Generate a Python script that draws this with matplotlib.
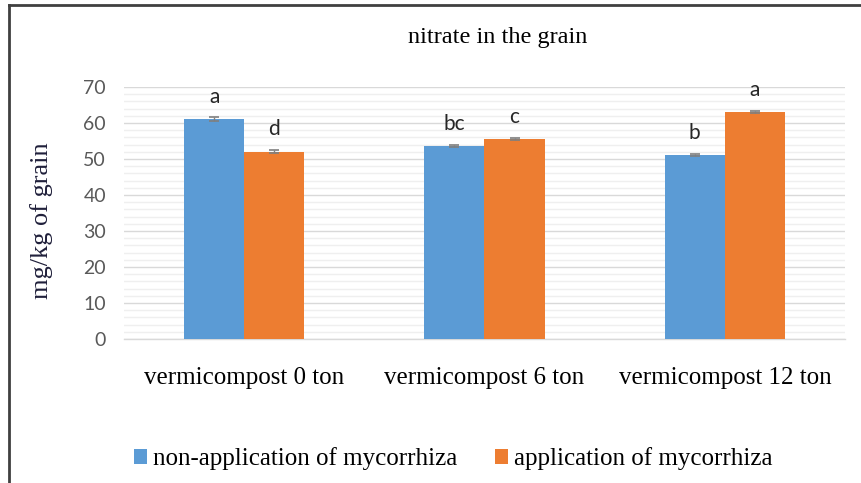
import matplotlib
matplotlib.use("Agg")
import matplotlib.pyplot as plt
import numpy as np
from matplotlib.lines import Line2D
from matplotlib.patches import Patch

categories = ["vermicompost 0 ton", "vermicompost 6 ton", "vermicompost 12 ton"]
series_names = ["non-application of mycorrhiza", "application of mycorrhiza"]
non_app = [61.1, 53.6, 51.1]
app = [52.0, 55.6, 63.1]
non_app_err = [0.6, 0.3, 0.3]
app_err = [0.4, 0.3, 0.3]
non_app_letters = ["a", "bc", "b"]
app_letters = ["d", "c", "a"]
yticks = [0, 10, 20, 30, 40, 50, 60, 70]

blue = "#5b9bd5"
orange = "#ed7d31"
serif = "Liberation Serif"
sans = "Lato"

W, H = 862, 483
fig = plt.figure(figsize=(W / 100, H / 100), dpi=100)
ax = fig.add_axes([124 / W, (H - 339) / H, (845 - 124) / W, (339 - 87) / H])

x = np.arange(len(categories))
bw = 0.25
ax.bar(x - bw / 2, non_app, bw, color=blue, zorder=3,
       yerr=non_app_err, error_kw=dict(ecolor="#7f7f7f", elinewidth=1, capsize=3.5, capthick=1.2, zorder=4))
ax.bar(x + bw / 2, app, bw, color=orange, zorder=3,
       yerr=app_err, error_kw=dict(ecolor="#7f7f7f", elinewidth=1, capsize=3.5, capthick=1.2, zorder=4))

for xi, v, lab in zip(x - bw / 2, non_app, non_app_letters):
    ax.text(xi, v + 6.2, lab, ha="center", va="center", fontsize=15, family=sans, color="#262626")
for xi, v, lab in zip(x + bw / 2, app, app_letters):
    ax.text(xi, v + 6.2, lab, ha="center", va="center", fontsize=15, family=sans, color="#262626")

ax.set_xlim(-0.5, len(categories) - 0.5)
ax.set_ylim(0, 70)
ax.set_yticks(yticks)
ax.set_yticks(np.arange(0, 71, 2), minor=True)
ax.grid(axis="y", which="major", color="#d9d9d9", linewidth=1, zorder=0)
ax.grid(axis="y", which="minor", color="#efefef", linewidth=1, zorder=0)
ax.tick_params(axis="both", which="both", length=0)
ax.tick_params(axis="y", labelsize=14, labelcolor="#595959", pad=13)
for t in ax.get_yticklabels():
    t.set_family(sans)
ax.set_xticks(x)
ax.set_xticklabels(categories, family=serif, fontsize=18, color="black")
ax.tick_params(axis="x", pad=20)
for s in ["top", "right", "left"]:
    ax.spines[s].set_visible(False)
ax.spines["bottom"].set_color("#d9d9d9")
ax.spines["bottom"].set_linewidth(1)

ax.set_ylabel("mg/kg of grain", family=serif, fontsize=19, color="#1f1f3a")
ax.yaxis.set_label_coords((53 - 124) / (845 - 124), (339 - 221) / (339 - 87))

fig.text(498 / W, 1 - 37 / H, "nitrate in the grain", ha="center", va="center",
         family=serif, fontsize=17.5, color="black")

handles = [Patch(facecolor=blue, edgecolor="none"), Patch(facecolor=orange, edgecolor="none")]
fig.legend(handles, series_names, loc="center", bbox_to_anchor=(453 / W, 1 - 459 / H), ncol=2,
           frameon=False, prop=dict(family=serif, size=18), handlelength=0.52, handleheight=0.52,
           handletextpad=0.24, columnspacing=1.5)

# outer frame (top and left edges visible)
fig.add_artist(Line2D([9 / W, 9 / W], [0, 1 - 5 / H], color="#404040", linewidth=2, transform=fig.transFigure))
fig.add_artist(Line2D([9 / W, 1], [1 - 5 / H, 1 - 5 / H], color="#404040", linewidth=2, transform=fig.transFigure))

fig.savefig("out.png", dpi=100)
